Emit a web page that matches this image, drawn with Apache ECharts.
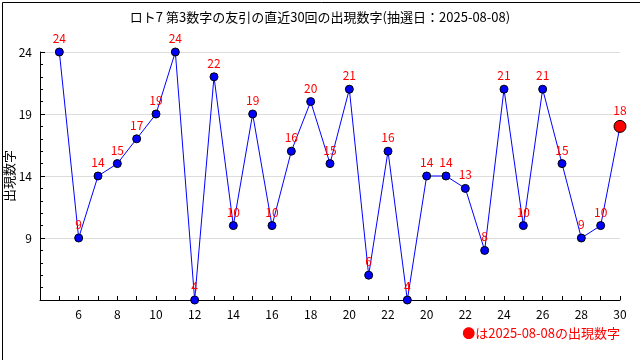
<!DOCTYPE html>
<html>
<head>
<meta charset="utf-8">
<script src="https://cdn.jsdelivr.net/npm/echarts@6/dist/echarts.min.js"></script>
<style>
html,body{margin:0;padding:0;background:#fff;}
#c{width:640px;height:360px;}
</style>
</head>
<body>
<div id="c"></div>
<script>
// Draw labels (x-axis categories) for the 30 most recent draws
const drawLabels = ['5','6','7','8','9','10','11','12','13','14','15','16','17','18','19','20','21','22','23','20','21','22','23','24','25','26','27','28','29','30'];
// Third number drawn in each of those draws
const drawValues = [24, 9, 14, 15, 17, 19, 24, 4, 22, 10, 19, 10, 16, 20, 15, 21, 6, 16, 4, 14, 14, 13, 8, 21, 10, 21, 15, 9, 10, 18];
const yTicks = [9, 14, 19, 24];
const titleText = 'ロト7 第3数字の友引の直近30回の出現数字(抽選日：2025-08-08)';
const noteText = '●は2025-08-08の出現数字';
const yName = '出現数字';

const FONT = '"Noto Sans CJK JP", "Noto Sans", sans-serif';
const last = drawValues.length - 1;
const seriesData = drawValues.map((v, i) => {
  const d = { value: [i + 1, v] };
  if (i === last) {
    d.symbolSize = 12;
    d.itemStyle = { color: '#ff0000', borderColor: '#000', borderWidth: 1 };
  }
  return d;
});

const chart = echarts.init(document.getElementById('c'), null, { renderer: 'canvas' });
chart.setOption({
  animation: false,
  backgroundColor: '#fff',
  title: {
    text: titleText,
    left: 'center',
    top: 6,
    textStyle: { fontFamily: FONT, fontSize: 13, fontWeight: 'normal', color: '#000' }
  },
  grid: { left: 40, right: 20, top: 52, bottom: 60, containLabel: false, outerBoundsMode: 'none' },
  xAxis: {
    type: 'value',
    min: 0,
    max: drawLabels.length,
    interval: 1,
    axisLine: { show: true, lineStyle: { color: '#000', width: 1 } },
    axisTick: { show: true, inside: true, length: 4, lineStyle: { color: '#000' } },
    splitLine: { show: false },
    axisLabel: {
      color: '#000',
      fontFamily: FONT,
      fontSize: 12,
      margin: 8,
      showMinLabel: true,
      showMaxLabel: true,
      formatter: function (v) {
        if (v > 0 && v % 2 === 0) return drawLabels[v - 1];
        return '';
      }
    }
  },
  yAxis: {
    type: 'value',
    min: 4,
    max: 24,
    interval: 5,
    name: yName,
    nameLocation: 'middle',
    nameRotate: 90,
    nameGap: 24,
    nameMoveOverlap: false,
    nameTextStyle: { fontFamily: FONT, fontSize: 13, color: '#000' },
    axisLine: { show: true, lineStyle: { color: '#000', width: 1 } },
    axisTick: { show: true, inside: true, length: 5, lineStyle: { color: '#000' } },
    minorTick: { show: true, splitNumber: 5, length: 3, lineStyle: { color: '#000' } },
    splitLine: { show: true, lineStyle: { color: '#dddddd', width: 1 } },
    axisLabel: {
      color: '#000',
      fontFamily: FONT,
      fontSize: 12,
      margin: 8,
      showMinLabel: false,
      formatter: function (v) { return yTicks.indexOf(v) >= 0 ? String(v) : ''; }
    }
  },
  series: [{
    type: 'line',
    data: seriesData,
    symbol: 'circle',
    symbolSize: 8,
    lineStyle: { color: '#0000ff', width: 1 },
    itemStyle: { color: '#0000ff', borderColor: '#000', borderWidth: 1 },
    label: {
      show: true,
      position: 'top',
      distance: 3,
      color: '#ff0000',
      fontFamily: FONT,
      fontSize: 12,
      formatter: function (p) { return String(p.value[1]); }
    },
    z: 3
  }],
  graphic: [
    {
      type: 'rect',
      left: 0, top: 0,
      shape: { x: 0.5, y: 0.5, width: 639, height: 359 },
      style: { fill: 'none', stroke: '#000', lineWidth: 1 },
      silent: true
    },
    {
      type: 'text',
      right: 20,
      top: 327,
      style: { text: noteText, fill: '#ff0000', font: '13px ' + FONT }
    }
  ]
});
</script>
</body>
</html>
